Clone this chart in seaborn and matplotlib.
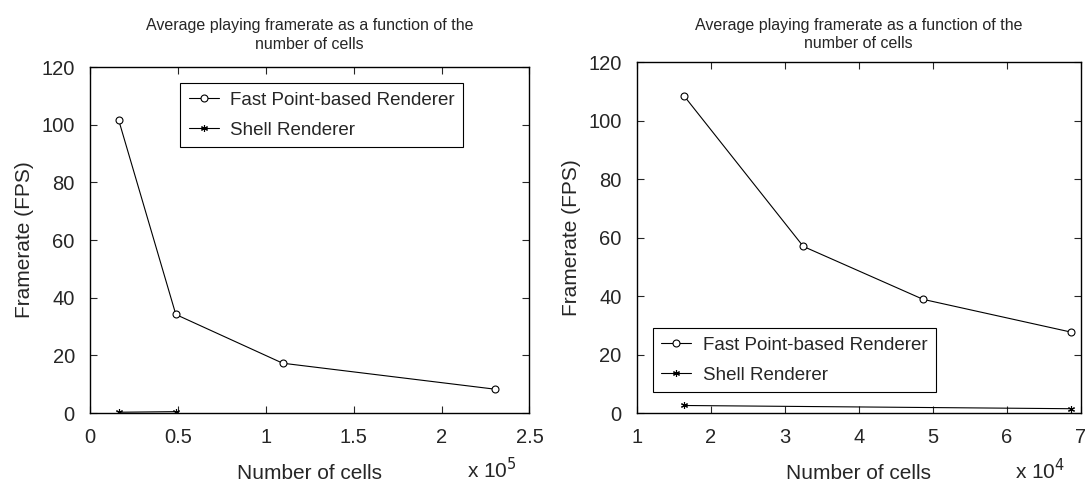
import numpy as np
import pandas as pd
import matplotlib
matplotlib.use("Agg")
import matplotlib.pyplot as plt
import seaborn as sns

# ---- data ----
left_fast_x = [0.162, 0.488, 1.096, 2.303]   # x 10^5 cells
left_fast_y = [101.8, 34.2, 17.3, 8.3]
left_shell_x = [0.162, 0.488]
left_shell_y = [0.3, 0.5]

right_fast_x = [1.64, 3.25, 4.87, 6.87]      # x 10^4 cells
right_fast_y = [108.4, 57.0, 38.9, 27.7]
right_shell_x = [1.64, 6.87]
right_shell_y = [2.6, 1.5]

title = "Average playing framerate as a function of the\nnumber of cells"
series_names = ["Fast Point-based Renderer", "Shell Renderer"]

sns.set_style("ticks")
plt.rcParams['font.family'] = ['Liberation Sans', 'DejaVu Sans']

fig = plt.figure(figsize=(10.85, 4.86), dpi=100)
axL = fig.add_axes([0.083, 0.150, 0.405, 0.712])
axR = fig.add_axes([0.587, 0.150, 0.409, 0.722])

asterisk = (6, 2, 0)

def draw(ax, fx, fy, sx, sy, xlim, xticks, xtl, mult, legend_anchor, tpad, offx):
    df_f = pd.DataFrame({"x": fx, "y": fy})
    df_s = pd.DataFrame({"x": sx, "y": sy})
    sns.lineplot(data=df_f, x="x", y="y", ax=ax, color="black", lw=0.8,
                 marker="o", markersize=5, markerfacecolor="white",
                 markeredgecolor="black", markeredgewidth=0.8,
                 label=series_names[0])
    sns.lineplot(data=df_s, x="x", y="y", ax=ax, color="black", lw=0.8,
                 marker=asterisk, markersize=5, markeredgewidth=0.8,
                 markeredgecolor="black", label=series_names[1])
    ax.set_xlim(*xlim)
    ax.set_ylim(0, 120)
    ax.set_xticks(xticks)
    ax.set_xticklabels(xtl)
    ax.set_yticks([0, 20, 40, 60, 80, 100, 120])
    ax.tick_params(direction="in", top=True, right=True, labelsize=14.5,
                   length=5, width=0.8, pad=11)
    for s in ax.spines.values():
        s.set_linewidth(1.0)
        s.set_color("black")
    ax.set_xlabel("Number of cells", fontsize=15, labelpad=12)
    ax.set_ylabel("Framerate (FPS)", fontsize=15, labelpad=5)
    ax.set_title(title, fontsize=11.5, pad=tpad, linespacing=1.3)
    ax.text(offx, -0.188, "x 10$^{%d}$" % mult, transform=ax.transAxes,
            fontsize=15, ha="right", va="baseline")
    leg = ax.legend(loc="upper left", bbox_to_anchor=legend_anchor,
                    fontsize=13.5, frameon=True, fancybox=False,
                    edgecolor="black", framealpha=1, handlelength=1.6,
                    handletextpad=0.6, borderpad=0.45, labelspacing=0.7,
                    borderaxespad=0)
    leg.get_frame().set_linewidth(0.8)

draw(axL, left_fast_x, left_fast_y, left_shell_x, left_shell_y,
     (0, 2.5), [0, 0.5, 1, 1.5, 2, 2.5], ["0", "0.5", "1", "1.5", "2", "2.5"], 5,
     (0.205, 0.954), 13, 0.97)
draw(axR, right_fast_x, right_fast_y, right_shell_x, right_shell_y,
     (1, 7), [1, 2, 3, 4, 5, 6, 7], ["1", "2", "3", "4", "5", "6", "7"], 4,
     (0.036, 0.242), 10, 0.966)

fig.savefig("out.png", dpi=100)
